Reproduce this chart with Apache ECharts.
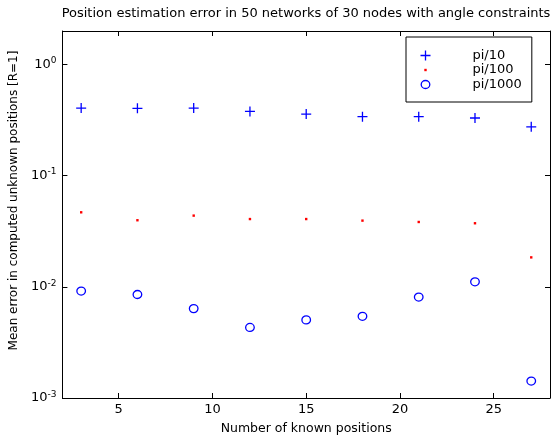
<!DOCTYPE html>
<html>
<head>
<meta charset="utf-8">
<script src="https://cdn.jsdelivr.net/npm/echarts@6/dist/echarts.min.js"></script>
<style>
  html, body { margin: 0; padding: 0; background: #fff; }
  #chart { width: 560px; height: 440px; }
</style>
</head>
<body>
<div id="chart"></div>
<script>
// Number of anchor (known) nodes per experiment
const knownPositions = [3, 6, 9, 12, 15, 18, 21, 24, 27];

// Mean position error for each angle-noise level
const errPi10   = [0.405, 0.403, 0.405, 0.378, 0.358, 0.339, 0.339, 0.330, 0.275];
const errPi100  = [0.0468, 0.0397, 0.0437, 0.0407, 0.0407, 0.0394, 0.0383, 0.0373, 0.0184];
const errPi1000 = [0.00916, 0.00853, 0.00637, 0.00431, 0.00504, 0.00543, 0.00809, 0.0111, 0.00142];

const seriesNames = ['pi/10', 'pi/100', 'pi/1000'];

// Tick positions
const xTicks = [5, 10, 15, 20, 25];
const yTicks = [0.001, 0.01, 0.1, 1];

const FONT = 'DejaVu Sans';

// Marker shapes drawn inside a fixed 14-unit frame so that series and legend share one size
const SYM_PLUS   = 'path://M-7,-7M7,7M0,-5L0,5M-5,0L5,0';
const SYM_DOT    = 'path://M-7,-7M7,7M-1.2,-1.2L1.2,-1.2L1.2,1.2L-1.2,1.2Z';
const SYM_CIRCLE = 'path://M-7,-7M7,7M4.3,0A4.3,4 0 1,1 -4.3,0A4.3,4 0 1,1 4.3,0Z';

const pairs = ys => knownPositions.map((x, i) => [x, ys[i]]);

const chart = echarts.init(document.getElementById('chart'), null, { renderer: 'canvas' });

const frameLine = { show: true, lineStyle: { color: '#000', width: 1 } };
const tickIn = vals => ({ show: true, inside: true, length: 5, customValues: vals, lineStyle: { color: '#000', width: 1 } });

function powLabel(v) {
  const e = Math.round(Math.log10(v));
  if (Math.abs(Math.log10(v) - e) > 1e-6) return '';
  return '{b|10}{s|' + e + '}';
}

chart.setOption({
  animation: false,
  backgroundColor: '#fff',
  title: {
    text: 'Position estimation error in 50 networks of 30 nodes with angle constraints',
    left: 306,
    textAlign: 'center',
    top: 7,
    padding: 0,
    textStyle: { fontFamily: FONT, fontSize: 13, fontWeight: 'normal', color: '#000' }
  },
  grid: { left: 61, right: 10, top: 31, bottom: 39, containLabel: false },
  legend: {
    orient: 'vertical',
    left: 406,
    top: 37,
    padding: [9, 10, 8, 10],
    backgroundColor: '#fff',
    borderColor: '#000',
    borderWidth: 1,
    itemWidth: 36,
    itemHeight: 14,
    itemGap: -2,
    selectedMode: false,
    itemStyle: { borderWidth: 1.3 },
    textStyle: { fontFamily: FONT, fontSize: 13, lineHeight: 14, color: '#000', padding: [0, 0, 0, 24] },
    data: seriesNames
  },
  xAxis: [
    {
      type: 'value', position: 'bottom', min: 2, max: 28,
      axisLine: frameLine,
      axisTick: tickIn(xTicks),
      axisLabel: { customValues: xTicks, color: '#000', fontFamily: FONT, fontSize: 13, margin: 5 },
      splitLine: { show: false },
      name: 'Number of known positions',
      nameLocation: 'middle',
      nameGap: 24,
      nameTextStyle: { fontFamily: FONT, fontSize: 12.5, color: '#000' }
    },
    {
      type: 'value', position: 'top', min: 2, max: 28,
      axisLine: frameLine,
      axisTick: tickIn(xTicks),
      axisLabel: { show: false },
      splitLine: { show: false }
    }
  ],
  yAxis: [
    {
      type: 'log', logBase: 10, position: 'left', min: 0.001, max: 2,
      axisLine: frameLine,
      axisTick: tickIn(yTicks),
      axisLabel: {
        customValues: yTicks,
        formatter: powLabel,
        margin: 6,
        rich: {
          b: { fontFamily: FONT, fontSize: 13, color: '#000', lineHeight: 16 },
          s: { fontFamily: FONT, fontSize: 9, color: '#000', lineHeight: 9, verticalAlign: 'top' }
        }
      },
      splitLine: { show: false },
      name: 'Mean error in computed unknown positions [R=1]',
      nameLocation: 'middle',
      nameGap: 33,
      nameTextStyle: { fontFamily: FONT, fontSize: 12, color: '#000', padding: [0, 0, 0, 28] }
    },
    {
      type: 'log', logBase: 10, position: 'right', min: 0.001, max: 2,
      axisLine: frameLine,
      axisTick: tickIn(yTicks),
      axisLabel: { show: false },
      splitLine: { show: false }
    }
  ],
  series: [
    {
      name: seriesNames[0], type: 'scatter', data: pairs(errPi10),
      symbol: SYM_PLUS, symbolSize: 14,
      itemStyle: { color: 'none', borderColor: '#0000ff', borderWidth: 1.3, opacity: 1 }
    },
    {
      name: seriesNames[1], type: 'scatter', data: pairs(errPi100),
      symbol: SYM_DOT, symbolSize: 14,
      itemStyle: { color: '#ff0000', borderWidth: 0, opacity: 1 }
    },
    {
      name: seriesNames[2], type: 'scatter', data: pairs(errPi1000),
      symbol: SYM_CIRCLE, symbolSize: 14,
      itemStyle: { color: 'none', borderColor: '#0000ff', borderWidth: 1.3, opacity: 1 }
    }
  ]
});
</script>
</body>
</html>
